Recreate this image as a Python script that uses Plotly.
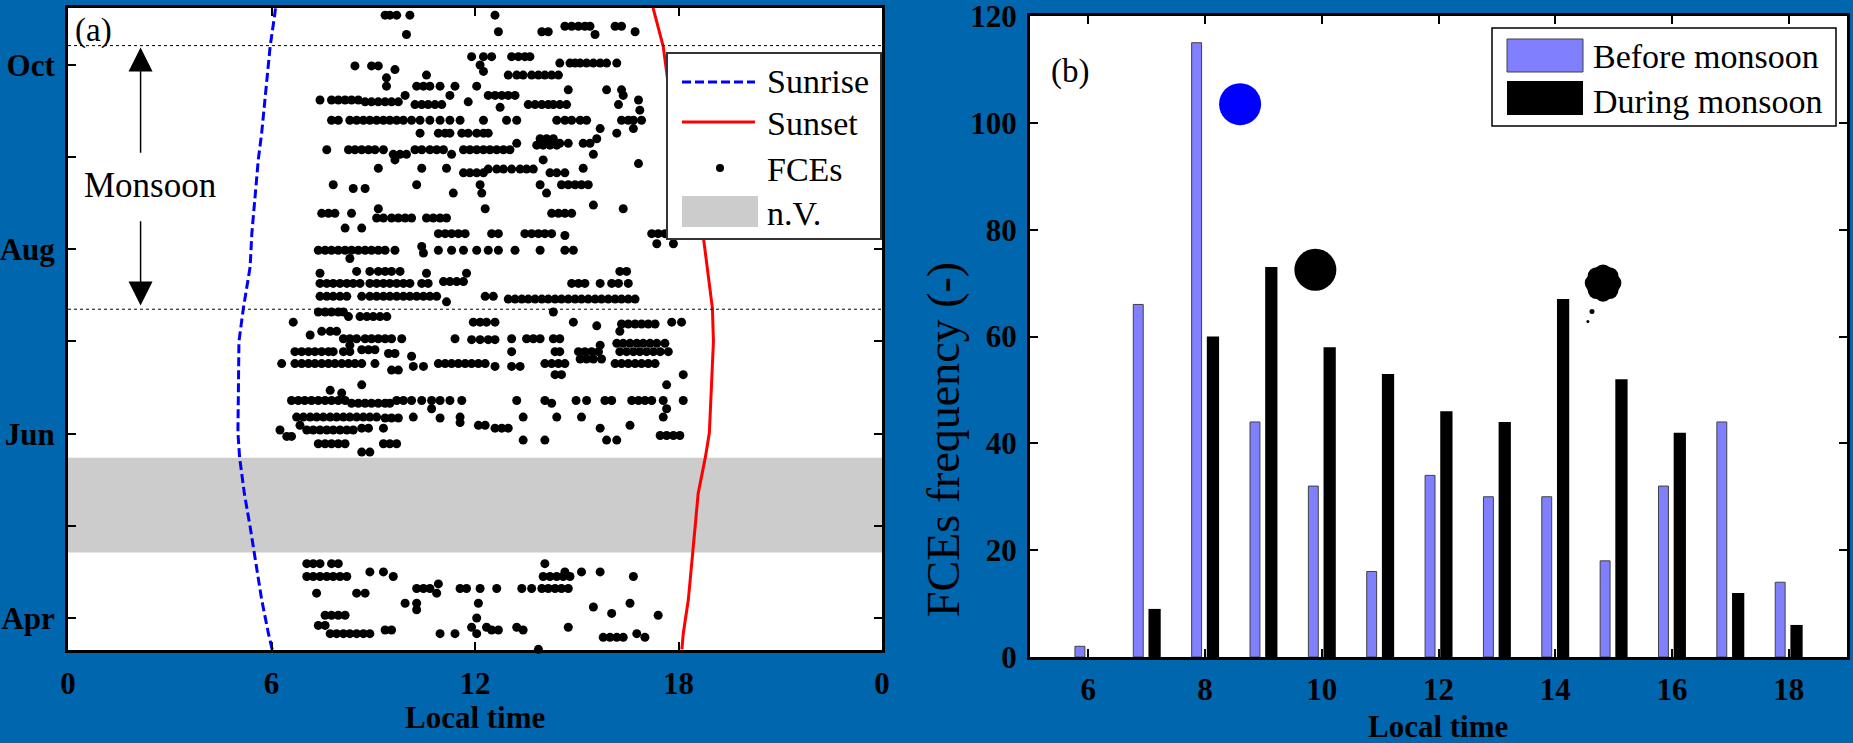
import plotly.graph_objects as go

W, H = 1853, 743
W0, H0 = 1830, 720          # initial size that fits inside the default page margins
BG = "#0066AE"
SERIF = "Liberation Serif, Times New Roman, serif"

# ---------------- Panel (a) data ----------------
month_ticks = [4, 5, 6, 7, 8, 9, 10]
month_labels = ["Apr", "", "Jun", "", "Aug", "", "Oct"]
hour_ticks_a = [0, 6, 12, 18, 24]
hour_labels_a = ["0", "6", "12", "18", "0"]

sun_month = [3.66, 3.83, 4.20, 4.56, 4.77, 4.99, 5.35, 5.74, 6.01, 7.00, 7.36, 7.81, 8.17, 8.54, 8.97, 9.26, 9.62, 9.84, 10.20, 10.56, 10.62]
sunrise_hour = [6.02, 5.91, 5.71, 5.56, 5.46, 5.37, 5.20, 5.06, 5.01, 5.04, 5.17, 5.37, 5.42, 5.51, 5.61, 5.71, 5.81, 5.86, 5.96, 6.10, 6.12]
sunset_hour = [18.10, 18.14, 18.29, 18.39, 18.44, 18.49, 18.58, 18.79, 18.91, 19.03, 19.00, 18.85, 18.72, 18.55, 18.25, 18.00, 17.80, 17.68, 17.55, 17.28, 17.25]

nv_start, nv_end = 4.71, 5.74          # no-values period
monsoon_start, monsoon_end = 7.35, 10.21

# FCE events: (month position, [local hours])
fce_rows = [
    (10.54, [9.35, 9.49, 9.69, 10.08, 12.59]),
    (10.33, [9.98, 15.54]),
    (10.36, [12.69, 13.97, 14.16, 16.72]),
    (10.42, [14.65, 14.85, 15.05, 15.24, 15.39, 16.13, 16.32]),
    (10.09, [11.90, 12.25, 12.49, 13.08, 13.28, 13.47, 13.62]),
    (10.00, [12.15]),
    (9.93, [12.25]),
    (9.99, [8.46, 8.95, 9.15]),
    (9.95, [9.64]),
    (10.02, [14.50, 14.80, 14.95, 15.10, 15.29, 15.49, 15.69, 15.88, 16.18]),
    (9.89, [12.98, 13.23, 13.42, 13.67, 13.87, 14.06, 14.26, 14.46, 10.57]),
    (9.86, [9.39]),
    (9.77, [9.39, 10.28, 10.48, 10.67, 10.97, 11.41, 12.05]),
    (9.73, [14.75, 15.88, 16.32]),
    (9.67, [16.37, 11.26, 12.39, 12.59, 12.79, 12.98, 13.18, 9.94]),
    (9.62, [7.43, 7.77, 7.97, 8.17, 8.36, 8.56, 16.82]),
    (9.60, [8.76, 8.95, 9.15, 9.35, 9.54, 9.74, 11.80]),
    (9.57, [10.23, 10.43, 10.62, 10.82, 11.02, 13.57, 13.77, 13.97, 14.16, 14.31, 14.50, 14.70, 16.23]),
    (9.51, [16.86]),
    (9.54, [12.74]),
    (9.40, [7.77, 7.97, 8.31, 8.51, 8.71, 8.90, 9.10, 9.30, 9.49, 9.69, 9.89, 10.13, 10.38, 10.67,
            10.97, 11.26, 11.56, 12.25, 12.93, 13.23, 14.41, 14.65, 14.85, 15.10, 15.29, 16.32, 16.52, 16.67, 16.91]),
    (9.26, [10.38, 10.92, 11.12, 11.26, 11.61, 11.80, 12.05, 12.25, 12.39, 16.18]),
    (9.31, [15.69, 16.67]),
    (9.20, [13.92, 14.11, 14.31, 15.59]),
    (9.15, [13.23, 14.50, 14.75, 15.19, 15.39]),
    (9.08, [7.63, 8.27, 8.46, 8.66, 8.86, 9.05, 9.30, 10.23, 10.43, 10.67, 10.87, 11.07,
            11.66, 11.85, 12.05, 12.25, 12.44, 12.64, 12.84, 13.03]),
    (9.13, [13.82, 14.01, 14.21, 14.41]),
    (9.03, [9.59, 9.79, 9.98, 15.49, 11.31]),
    (8.97, [14.01, 9.64]),
    (8.93, [16.82]),
    (8.88, [9.15, 10.43, 11.16, 15.19]),
    (8.87, [12.39, 12.64, 12.84, 13.08, 13.33, 13.52, 13.72]),
    (8.83, [11.66, 11.85, 12.05, 12.25, 14.21, 14.41, 14.65]),
    (8.70, [7.82, 10.28, 12.15, 13.92, 14.55, 14.75, 14.95, 15.14, 15.34]),
    (8.66, [8.41, 8.76]),
    (8.61, [11.36, 12.20, 14.11]),
    (8.39, [7.48, 7.68, 7.87, 8.36, 14.26, 14.46, 14.65, 14.85]),
    (8.44, [9.15, 12.30, 16.37]),
    (8.48, [15.49]),
    (8.34, [9.10, 9.30, 9.54, 9.74, 9.94, 10.13, 10.57, 10.77, 10.97, 11.16]),
    (8.23, [8.17, 8.66]),
    (8.17, [10.92, 11.12, 11.31, 11.51, 11.71, 12.49, 12.69, 13.47, 13.67, 13.87, 14.06, 14.26, 17.21, 17.40, 17.60]),
    (8.15, [14.65]),
    (8.06, [17.36, 17.85]),
    (7.99, [7.38, 7.58, 7.77, 7.97, 8.17, 8.36, 8.56, 8.76, 8.95, 9.15, 9.35, 9.64,
            10.92, 11.31, 11.66, 12.05, 12.39, 12.69, 13.18, 13.92, 14.65, 14.90]),
    (8.03, [10.43]),
    (7.96, [10.48]),
    (7.90, [8.31]),
    (7.74, [7.43, 10.57, 11.75]),
    (7.76, [8.51, 8.90, 9.15, 9.35, 9.54, 9.79, 16.27, 16.47]),
    (7.63, [7.43, 7.63, 7.82, 8.02, 8.22, 8.41, 8.61, 8.90, 9.10, 9.30, 9.49, 9.69, 9.89, 10.08,
            10.43, 10.62, 14.85, 15.05, 15.24, 15.69, 16.03, 16.23, 16.52]),
    (7.65, [11.07, 11.26, 11.46, 11.66]),
    (7.49, [7.43, 7.63, 7.82, 8.02, 8.22, 8.66, 8.90, 9.10, 9.30, 9.49, 9.69, 9.89, 10.08,
            10.28, 10.48, 10.67, 10.87, 12.30, 12.54]),
    (7.43, [11.16]),
    (7.46, [12.98, 13.18, 13.38, 13.57, 13.77, 13.97, 14.16, 14.36, 14.55, 14.75, 14.95,
            15.14, 15.34, 15.54, 15.73, 15.93, 16.13, 16.32, 16.52, 16.72]),
    (7.32, [7.38, 7.58, 7.77, 7.97, 8.12, 14.31]),
    (7.27, [8.27, 8.61, 8.81, 9.00, 9.20, 9.40]),
    (7.21, [6.64, 11.95, 12.15, 12.34, 12.59, 14.90, 17.80, 18.09]),
    (7.19, [16.32, 16.52, 16.72, 16.91, 17.11, 17.31]),
    (7.17, [15.59]),
    (7.07, [7.14]),
    (7.11, [7.48, 7.73, 7.92, 16.27]),
    (7.03, [8.12, 8.31, 8.51, 8.76, 8.95, 9.15, 9.35, 9.54, 9.84, 11.41, 13.08, 13.52, 13.72, 13.92, 14.31, 14.50]),
    (7.02, [11.90, 12.15, 12.39, 12.59]),
    (6.96, [15.69, 8.31]),
    (6.98, [16.18, 16.37, 16.57, 16.77, 16.96, 17.16, 17.36, 17.60]),
    (6.89, [6.69, 6.89, 7.09, 7.28, 7.48, 7.68, 7.82, 8.12, 8.31, 13.08, 14.36, 14.50,
            15.05, 15.24, 15.44, 15.64, 16.27, 16.47, 16.67, 16.86, 17.06, 17.26, 17.46, 17.70]),
    (6.91, [8.66, 8.86, 9.05]),
    (6.87, [9.45, 9.64]),
    (6.84, [10.13]),
    (6.81, [15.10, 15.29, 15.49, 15.73]),
    (6.76, [6.30, 6.69, 6.89, 7.09, 7.28, 7.48, 7.68, 7.87, 8.07, 8.27, 8.46, 8.66, 9.05,
            10.92, 11.12, 11.31, 11.51, 11.71, 11.90, 12.10, 12.30, 14.06, 14.26, 14.46, 14.65,
            16.13, 16.32, 16.52, 16.72, 16.91, 17.11, 17.31]),
    (6.73, [10.18, 10.48, 12.59, 13.08, 13.33]),
    (6.69, [9.54, 9.74]),
    (6.64, [14.36, 14.55, 18.14]),
    (6.53, [8.66, 17.65]),
    (6.47, [7.73]),
    (6.44, [8.07]),
    (6.36, [6.59, 6.79, 6.98, 7.18, 7.38, 7.58, 7.77, 7.97, 8.17, 9.69, 9.89, 10.13, 10.43,
            10.72, 10.97, 11.26, 11.61, 13.23, 14.06, 14.98, 15.29, 15.83, 16.03,
            16.62, 16.82, 17.01, 17.21, 17.55, 18.14]),
    (6.33, [8.36, 8.56, 8.76, 8.95, 9.15, 9.35, 9.49, 14.26]),
    (6.18, [6.74, 6.94, 7.14, 7.33, 7.53, 7.73, 7.92, 8.12, 8.31, 8.51, 8.71, 8.90, 9.10,
            10.18, 11.56, 13.42, 14.41, 15.14, 17.55]),
    (6.17, [9.35, 9.54, 9.74, 10.97]),
    (6.27, [10.72, 17.65]),
    (6.12, [11.56]),
    (6.04, [6.25, 7.04, 7.23, 7.43, 7.63, 7.82, 8.02, 8.22, 8.41]),
    (6.06, [8.66, 8.86, 9.30, 12.59, 12.79, 12.98, 15.69]),
    (6.09, [6.84, 12.10, 12.30, 16.57]),
    (5.97, [6.45, 6.59]),
    (5.89, [7.38, 7.58, 7.77, 7.97, 8.17, 9.30, 9.49, 9.69]),
    (5.93, [13.42, 14.06, 15.88, 16.18]),
    (5.98, [17.46, 17.65, 17.85, 18.04]),
    (5.80, [8.66, 8.90]),
    (4.59, [7.04, 7.23, 7.43, 7.77, 7.97, 14.06]),
    (4.45, [7.04, 7.23, 7.43, 7.63, 7.82, 8.02, 8.22, 9.59, 14.01, 14.21, 14.41, 14.60, 14.80, 16.67]),
    (4.50, [8.90, 9.30, 14.65, 15.14, 15.69]),
    (4.32, [10.28, 10.48, 10.67, 11.56, 11.75, 12.15, 12.64, 13.38, 13.67,
            13.97, 14.16, 14.36, 14.55, 14.75]),
    (4.37, [10.92]),
    (4.27, [7.33, 8.51, 8.76, 10.87]),
    (4.16, [9.94, 10.28, 12.10, 16.57]),
    (4.09, [10.28]),
    (4.12, [15.49]),
    (4.05, [16.03]),
    (4.03, [7.58, 7.77, 7.97, 8.17, 17.40]),
    (4.00, [12.05]),
    (3.92, [7.38, 7.58]),
    (3.90, [11.90, 12.34, 13.23, 14.75]),
    (3.83, [7.73, 7.92, 8.12, 8.31, 8.51, 8.71, 8.90, 10.97, 11.41, 12.05, 16.77]),
    (3.87, [9.35, 9.54, 12.49, 12.69, 13.42]),
    (3.79, [15.78, 15.98, 16.18, 16.37, 17.01]),
    (3.66, [13.87]),
]
fce_month = [m for m, hs in fce_rows for _ in hs]
fce_hour = [h for m, hs in fce_rows for h in hs]

# Monsoon arrow (hour position, tips and tails in month units)
arrow_hour = 2.14
arrow_up_tip, arrow_up_tail = 10.19, 9.03
arrow_dn_tip, arrow_dn_tail = 7.39, 8.32

# ---------------- Panel (b) data ----------------
hours_b = [6, 7, 8, 9, 10, 11, 12, 13, 14, 15, 16, 17, 18]
before_monsoon = [2, 66, 115, 44, 32, 16, 34, 30, 30, 18, 32, 44, 14]
during_monsoon = [0, 9, 60, 73, 58, 53, 46, 44, 67, 52, 42, 12, 6]
freq_ticks = [0, 20, 40, 60, 80, 100, 120]

# Weather icons (hour, frequency)
sun_icon = (8.6, 103.5)
dark_icon = (9.89, 72.5)
cloud_x = [14.82, 14.98, 14.93, 14.82, 14.71, 14.66, 14.71, 14.82, 14.93, 14.63, 14.56]
cloud_y = [70.0, 70.0, 71.3, 71.8, 71.3, 70.0, 68.7, 68.2, 68.7, 64.7, 62.8]
cloud_s = [30, 18, 18, 18, 18, 18, 18, 18, 18, 5, 3]


def px(x):
    return x / W


def py(y):
    return 1 - y / H


fig = go.Figure()

fig.add_trace(go.Scatter(
    x=[0, 24, 24, 0, 0], y=[nv_start, nv_start, nv_end, nv_end, nv_start],
    fill="toself", fillcolor="#CCCCCC", line=dict(width=0), mode="lines",
    name="n.V.", hoverinfo="skip", xaxis="x", yaxis="y"))

fig.add_trace(go.Scatter(
    x=fce_hour, y=fce_month, mode="markers", name="FCEs",
    marker=dict(color="black", size=9, opacity=1, line=dict(width=0)), cliponaxis=False,
    xaxis="x", yaxis="y"))

fig.add_trace(go.Scatter(
    x=sunrise_hour, y=sun_month, mode="lines", name="Sunrise",
    line=dict(color="#0000FF", width=3, dash="9px,4px"), xaxis="x", yaxis="y"))
fig.add_trace(go.Scatter(
    x=sunset_hour, y=sun_month, mode="lines", name="Sunset",
    line=dict(color="#FF0000", width=3), xaxis="x", yaxis="y"))

fig.add_trace(go.Bar(
    x=hours_b, y=before_monsoon, name="Before monsoon", offset=-0.23, width=0.17,
    marker=dict(color="#8080FF", line=dict(color="#404040", width=1)),
    xaxis="x2", yaxis="y2"))
fig.add_trace(go.Bar(
    x=hours_b, y=during_monsoon, name="During monsoon", offset=0.03, width=0.21,
    marker=dict(color="black", line=dict(width=0)),
    xaxis="x2", yaxis="y2"))

fig.add_trace(go.Scatter(
    x=[sun_icon[0]], y=[sun_icon[1]], mode="markers",
    marker=dict(color="#0000FF", size=42, opacity=1, line=dict(width=0)), xaxis="x2", yaxis="y2"))
fig.add_trace(go.Scatter(
    x=[dark_icon[0]], y=[dark_icon[1]], mode="markers",
    marker=dict(color="black", size=42, opacity=1, line=dict(width=0)), xaxis="x2", yaxis="y2"))
fig.add_trace(go.Scatter(
    x=cloud_x, y=cloud_y, mode="markers",
    marker=dict(color="black", size=cloud_s, opacity=1, line=dict(width=0)), xaxis="x2", yaxis="y2"))

tickfont = dict(family=SERIF, size=31, color="black", weight="bold")
axis_common = dict(showline=True, linecolor="black", linewidth=3, mirror="ticks",
                   ticks="inside", ticklen=8, tickwidth=2, tickcolor="black",
                   showgrid=False, zeroline=False, tickfont=tickfont,
                   ticklabeloverflow="allow", automargin=False)

shapes = [
    dict(type="line", xref="x domain", yref="y", x0=0, x1=1, y0=monsoon_start, y1=monsoon_start,
         line=dict(color="black", width=1, dash="3px,3px"), layer="above"),
    dict(type="line", xref="x domain", yref="y", x0=0, x1=1, y0=monsoon_end, y1=monsoon_end,
         line=dict(color="black", width=1, dash="3px,3px"), layer="above"),
    # legend (a)
    dict(type="rect", xref="paper", yref="paper", x0=px(667), x1=px(881), y0=py(239), y1=py(53),
         fillcolor="white", line=dict(color="#333333", width=2), layer="above"),
    dict(type="line", xref="paper", yref="paper", x0=px(682), x1=px(755), y0=py(82), y1=py(82),
         line=dict(color="#0000FF", width=3, dash="9px,4px"), layer="above"),
    dict(type="line", xref="paper", yref="paper", x0=px(682), x1=px(755), y0=py(122), y1=py(122),
         line=dict(color="#FF0000", width=3), layer="above"),
    dict(type="circle", xref="paper", yref="paper", x0=px(716), x1=px(724), y0=py(172), y1=py(164),
         fillcolor="black", line=dict(width=0), layer="above"),
    dict(type="rect", xref="paper", yref="paper", x0=px(682), x1=px(758), y0=py(227), y1=py(196),
         fillcolor="#CCCCCC", line=dict(width=0), layer="above"),
    # legend (b)
    dict(type="rect", xref="paper", yref="paper", x0=px(1492), x1=px(1836), y0=py(126), y1=py(28),
         fillcolor="white", line=dict(color="black", width=1.5), layer="above"),
    dict(type="rect", xref="paper", yref="paper", x0=px(1507), x1=px(1583), y0=py(72), y1=py(39),
         fillcolor="#8080FF", line=dict(color="#404040", width=1), layer="above"),
    dict(type="rect", xref="paper", yref="paper", x0=px(1507), x1=px(1583), y0=py(115), y1=py(81),
         fillcolor="black", line=dict(width=0), layer="above"),
]

reg = dict(family=SERIF, size=34, color="black")
bold = dict(family=SERIF, size=31, color="black", weight="bold")


def label(text, x, y, font, xanchor="center", **kw):
    return dict(text=text, x=px(x), y=py(y), xref="paper", yref="paper", showarrow=False,
                xanchor=xanchor, yanchor="middle", font=font, **kw)


annotations = [
    label("(a)", 93, 30, dict(family=SERIF, size=33, color="black")),
    label("(b)", 1070, 71, dict(family=SERIF, size=33, color="black")),
    label("Monsoon", 150, 186, dict(family=SERIF, size=35, color="black")),
    dict(text="", x=arrow_hour, y=arrow_up_tip, ax=arrow_hour, ay=arrow_up_tail,
         xref="x", yref="y", axref="x", ayref="y", showarrow=True, arrowhead=2,
         arrowsize=3.2, arrowwidth=1.5, arrowcolor="black"),
    dict(text="", x=arrow_hour, y=arrow_dn_tip, ax=arrow_hour, ay=arrow_dn_tail,
         xref="x", yref="y", axref="x", ayref="y", showarrow=True, arrowhead=2,
         arrowsize=3.2, arrowwidth=1.5, arrowcolor="black"),
    label("Sunrise", 765, 82, reg, "left"),
    label("Sunset", 765, 123, reg, "left"),
    label("FCEs", 765, 169, reg, "left"),
    label("n.V.", 765, 214, reg, "left"),
    label("Before monsoon", 1591, 57, reg, "left"),
    label("During monsoon", 1591, 102, reg, "left"),
    label("Local time", 475, 717, bold),
    label("Local time", 1438, 726, bold),
    label("FCEs frequency (-)", 943, 440, dict(family=SERIF, size=46, color="black"), textangle=-90),
]

fig.update_layout(
    width=W0, height=H0, autosize=False,
    margin=dict(l=0, r=0, t=0, b=0, pad=0, autoexpand=False),
    paper_bgcolor=BG, plot_bgcolor="white",
    barmode="overlay", showlegend=False,
    xaxis=dict(domain=[px(68), px(882)], range=[0, 24], tickvals=hour_ticks_a,
               ticktext=hour_labels_a, anchor="y", ticklabelstandoff=4, **axis_common),
    yaxis=dict(domain=[py(650), py(8)], range=[3.653, 10.618], tickvals=month_ticks,
               ticktext=month_labels, anchor="x", ticklabelstandoff=4, **axis_common),
    xaxis2=dict(domain=[px(1030), px(1847)], range=[5, 19], tickvals=hours_b[::2],
                anchor="y2", ticklabelstandoff=3, **axis_common),
    yaxis2=dict(domain=[py(657), py(16)], range=[0, 120], tickvals=freq_ticks,
                anchor="x2", ticklabelstandoff=4, **axis_common),
    shapes=shapes, annotations=annotations,
)

# After the first draw: drop the page margin and grow the figure to the full window.
post = (
    "var gd=document.querySelector('.plotly-graph-div');"
    "document.documentElement.style.background='" + BG + "';"
    "document.body.style.background='" + BG + "';"
    "document.body.style.margin='0px';"
    "gd.style.width='" + str(W) + "px';gd.style.height='" + str(H) + "px';"
    "var upd=new Object();upd.width=" + str(W) + ";upd.height=" + str(H) + ";"
    "Plotly.relayout(gd,upd);"
)
fig.write_html("out.html", config={"displayModeBar": False}, post_script=post)
